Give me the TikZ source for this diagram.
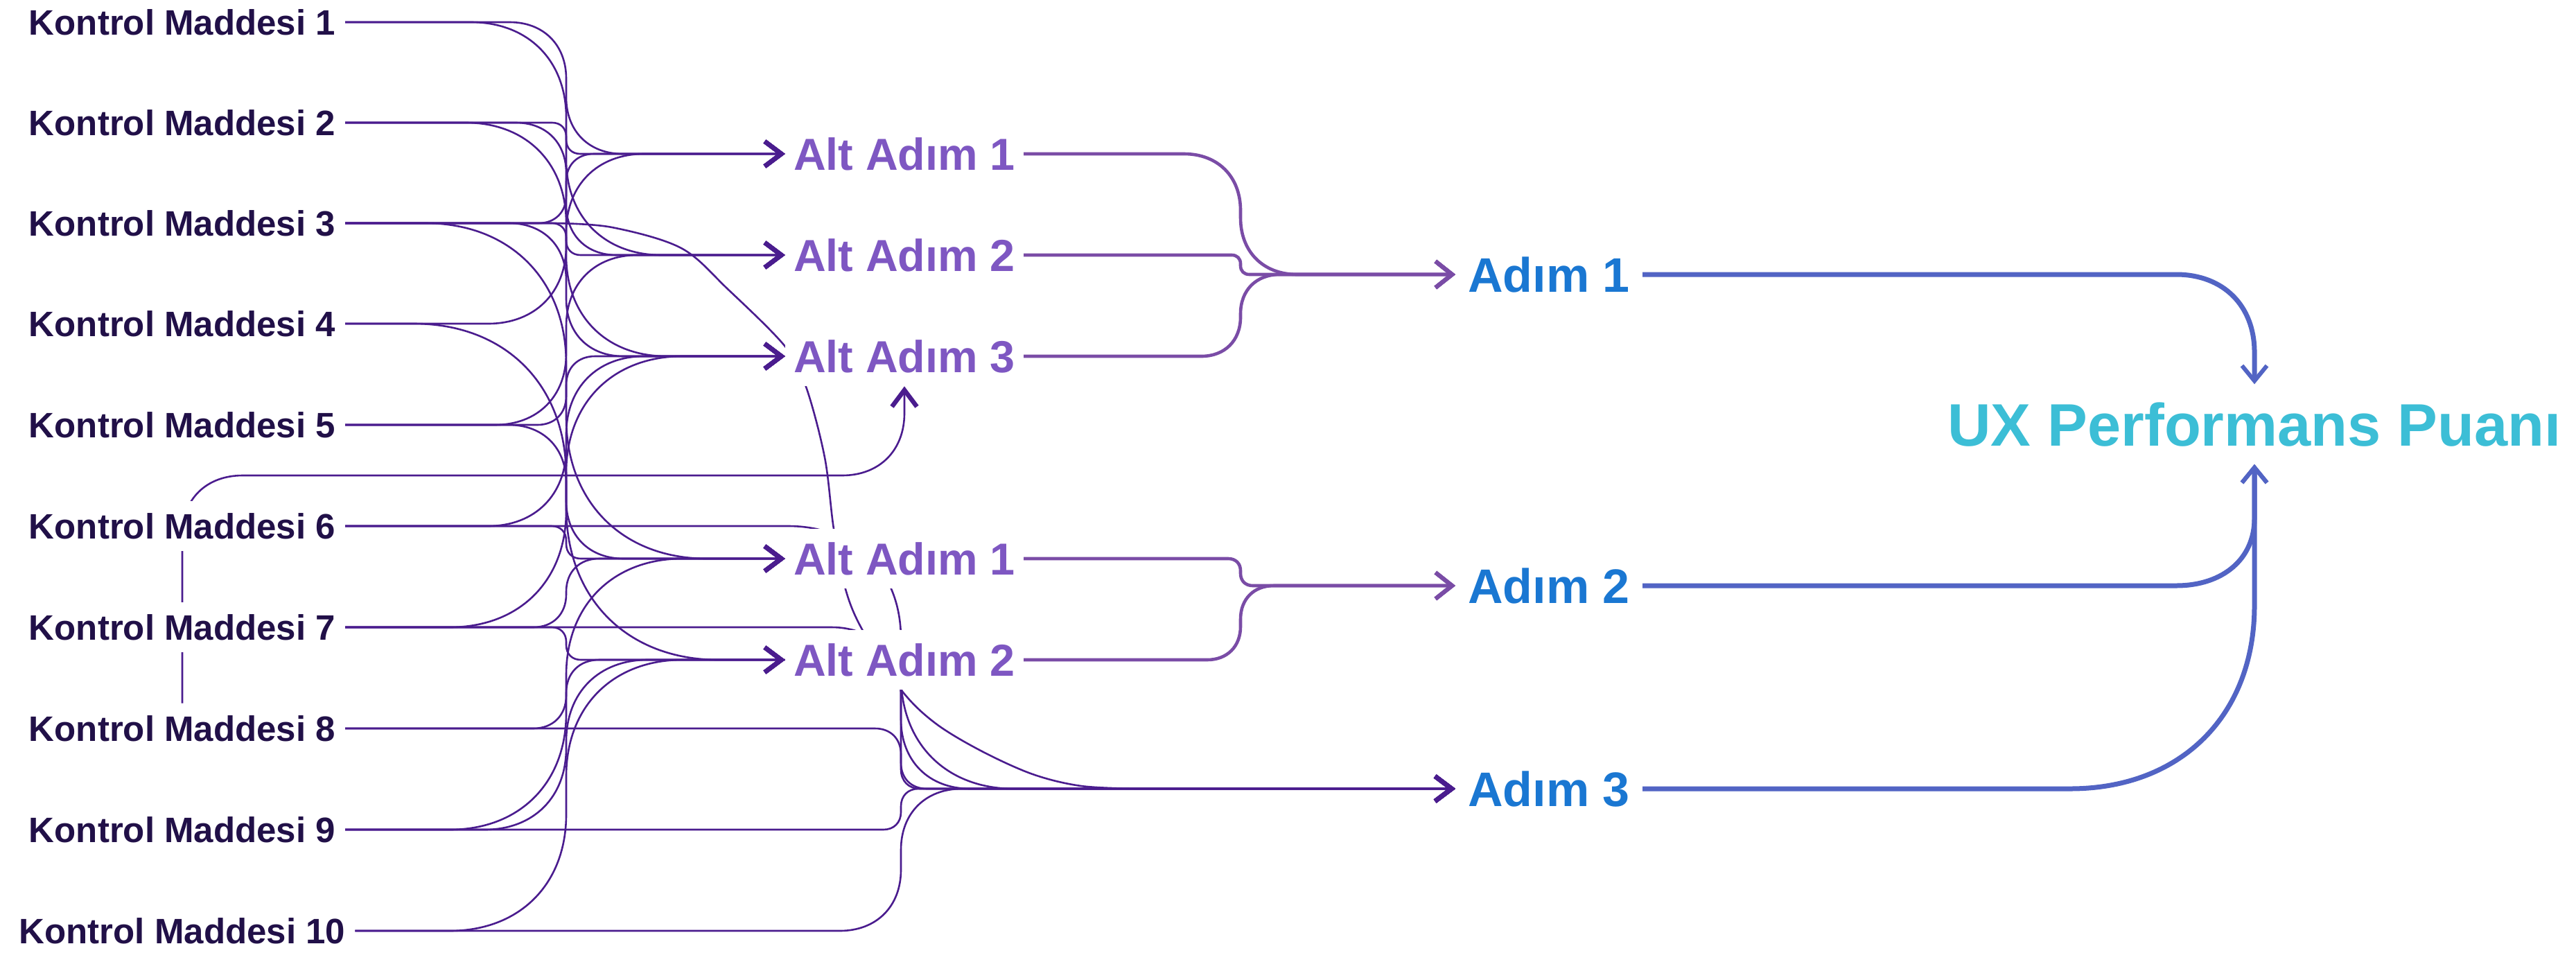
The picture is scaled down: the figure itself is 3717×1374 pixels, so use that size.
\documentclass[tikz,border=0pt]{standalone}
\usepackage{fontspec}
\setmainfont{Liberation Sans}
\usetikzlibrary{arrows.meta,calc}
\pgfdeclarelayer{edges}
\pgfsetlayers{edges,main}

\definecolor{kmtext}{HTML}{211048}
\definecolor{kline}{HTML}{4A1C8E}
\definecolor{subtext}{HTML}{7E57C2}
\definecolor{subline}{HTML}{7A4CA6}
\definecolor{steptext}{HTML}{1A77D2}
\definecolor{uxline}{HTML}{5264C4}
\definecolor{uxtext}{HTML}{3CBED6}

% Orthogonal route with smoothed corners:
% source.east -> vertical run at x=#4 -> target.west, corner radius = #5 * |dy|
\newcommand\route[5][kedge]{%
  \draw[#1] let \p1=(#2.east), \p2=(#3.west),
      \n1={#5*abs((\y2)-(\y1))}, \n2={sign((\y2)-(\y1))} in
    (\p1) -- ({#4pt-(\n1)*1pt},\y1)
    .. controls ({#4pt-0.4*(\n1)*1pt},\y1) and ({#4pt},{(\y1)+0.4*(\n2)*(\n1)*1pt}) ..
    ({#4pt},{(\y1)+(\n2)*(\n1)*1pt})
    -- ({#4pt},{(\y2)-(\n2)*(\n1)*1pt})
    .. controls ({#4pt},{(\y2)-0.4*(\n2)*(\n1)*1pt}) and ({#4pt+0.4*(\n1)*1pt},\y2) ..
    ({#4pt+(\n1)*1pt},\y2) -- (\p2);}

\tikzset{
  kmnode/.style={fill=white, inner xsep=14pt, inner ysep=18pt, text height=36.5pt,
    text depth=0pt, text=kmtext, font=\fontsize{51}{60}\selectfont\bfseries},
  subnode/.style={fill=white, inner xsep=12pt, inner ysep=20pt, text height=46.3pt,
    text depth=0pt, text=subtext, font=\fontsize{64.7}{70}\selectfont\bfseries},
  stepnode/.style={fill=white, inner xsep=18pt, inner ysep=22pt, text height=50.1pt,
    text depth=0pt, text=steptext, font=\fontsize{70}{80}\selectfont\bfseries},
  uxnode/.style={fill=white, inner xsep=10pt, inner ysep=26.5pt, text height=62pt,
    text depth=0pt, text=uxtext, font=\fontsize{86.6}{95}\selectfont\bfseries},
  kedge/.style={draw=kline, line width=2.6pt,
    -{Straight Barb[length=24pt,width=36pt,line width=6.5pt]}},
  aedge/.style={draw=subline, line width=4.6pt,
    -{Straight Barb[length=24pt,width=38pt,line width=6pt]}},
  uxedge/.style={draw=uxline, line width=7pt,
    -{Straight Barb[length=22pt,width=36pt,line width=6pt]}},
}

\begin{document}
\begin{tikzpicture}[x=1pt,y=-1pt]
\useasboundingbox (0,0) rectangle (3717,1374);

% checklist items
\node[kmnode] (K1)  at (263,32)   {Kontrol Maddesi 1};
\node[kmnode] (K2)  at (263,177)  {Kontrol Maddesi 2};
\node[kmnode] (K3)  at (263,322)  {Kontrol Maddesi 3};
\node[kmnode] (K4)  at (263,467)  {Kontrol Maddesi 4};
\node[kmnode] (K5)  at (263,613)  {Kontrol Maddesi 5};
\node[kmnode] (K6)  at (263,759)  {Kontrol Maddesi 6};
\node[kmnode] (K7)  at (263,905)  {Kontrol Maddesi 7};
\node[kmnode] (K8)  at (263,1051) {Kontrol Maddesi 8};
\node[kmnode] (K9)  at (263,1197) {Kontrol Maddesi 9};
\node[kmnode] (K10) at (263,1343) {Kontrol Maddesi 10};

% sub-steps
\node[subnode] (U1) at (1305,222) {Alt Adım 1};
\node[subnode] (U2) at (1305,368) {Alt Adım 2};
\node[subnode] (U3) at (1305,514) {Alt Adım 3};
\node[subnode] (L1) at (1305,806) {Alt Adım 1};
\node[subnode] (L2) at (1305,952) {Alt Adım 2};

% steps
\node[stepnode] (S1) at (2235,396)  {Adım 1};
\node[stepnode] (S2) at (2235,845)  {Adım 2};
\node[stepnode] (S3) at (2235,1138) {Adım 3};

% overall score
\node[uxnode] (UX) at (3253,612) {UX Performans Puanı};

\begin{pgfonlayer}{edges}
\fill[white] (0,0) rectangle (3717,1374);

% checklist items -> sub-steps
\route{K1}{U1}{817}{0.43}
\route{K1}{U2}{817}{0.41}
\route{K2}{U1}{817}{0.45}
\route{K2}{U2}{817}{0.38}
\route{K2}{U3}{817}{0.43}
\route{K3}{U1}{817}{0.40}
\route{K3}{U2}{817}{0.45}
\route{K3}{U3}{817}{0.43}
\route{K3}{L1}{817}{0.42}
\route{K4}{U1}{817}{0.46}
\route{K5}{U2}{817}{0.42}
\route{K5}{U3}{817}{0.42}
\route{K5}{L1}{817}{0.43}
\route{K6}{U3}{817}{0.46}
\route{K6}{L1}{817}{0.45}
\route{K7}{U3}{817}{0.43}
\route{K7}{L1}{817}{0.48}
\route{K7}{L2}{817}{0.45}
\route{K8}{L2}{817}{0.48}
\route{K9}{L1}{817}{0.43}
\route{K9}{L2}{817}{0.48}
\route{K10}{L2}{817}{0.43}

% item 8 climbs behind the labels into sub-step 3 from below
\draw[kedge] (K8.north) -- (263,771) .. controls (263,720) and (298,686) .. (350,686)
  -- (1215,686) .. controls (1269,686) and (1305,650) .. (1305,596) -- (U3.south);

% checklist items -> step 3
\route{K6}{S3}{1300}{0.43}
\route{K7}{S3}{1300}{0.43}
\route{K8}{S3}{1300}{0.43}
\route{K9}{S3}{1300}{0.43}
\route{K10}{S3}{1300}{0.43}
\draw[kedge] (K4.east) -- (597,467) .. controls (729,467) and (817,555) .. (817,687)
  -- (817,732) .. controls (817,864) and (905,952) .. (1037,952)
  -- (1272,952) .. controls (1289,952) and (1300,963) .. (1300,980)
  -- (1300,1110) .. controls (1300,1127) and (1311,1138) .. (1328,1138) -- (S3.west);
\draw[kedge] (K3.east) -- plot[smooth,tension=0.55] coordinates {
  (800,322) (883,328) (983,358) (1050,417) (1133,500) (1163,558) (1190,660)
  (1203,763) (1220,850) (1245,910) (1300,995) (1349,1043) (1415,1083)
  (1490,1117) (1560,1134) (1640,1138)} -- (S3.west);

% sub-steps -> steps
\route[aedge]{U1}{S1}{1790}{0.47}
\route[aedge]{U2}{S1}{1790}{0.45}
\route[aedge]{U3}{S1}{1790}{0.48}
\route[aedge]{L1}{S2}{1790}{0.45}
\route[aedge]{L2}{S2}{1790}{0.45}

% steps -> overall score
\draw[uxedge] (S1.east) -- (3140,396) .. controls (3208,396) and (3253,441) .. (3253,508) -- (UX.north);
\draw[uxedge] (S2.east) -- (3140,845) .. controls (3208,845) and (3253,806) .. (3253,748) -- (UX.south);
\draw[uxedge] (S3.east) -- (2987,1138) .. controls (3147,1138) and (3253,1032) .. (3253,874) -- (UX.south);
\end{pgfonlayer}
\end{tikzpicture}
\end{document}
